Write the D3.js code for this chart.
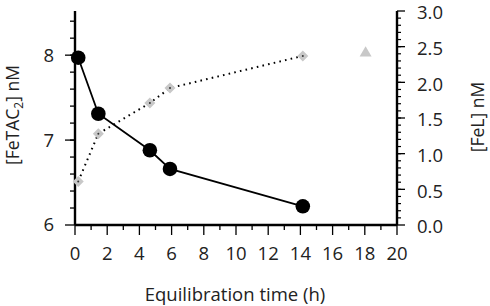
<!DOCTYPE html>
<html lang="en">
  <head>
    <meta charset="UTF-8" />
    <title>FeTAC2 and FeL vs equilibration time</title>
    <script src="https://d3js.org/d3.v7.min.js"></script>
    <style>
      body { margin: 0; background: #fff; }
      text { font-family: "Open Sans", sans-serif; fill: #222; }
    </style>
  </head>
  <body>
    <svg id="chart" width="490" height="306"></svg>
    <script>
      // data
      const feTacTime = [0.2, 1.45, 4.65, 5.9, 14.15];
      const feTacValues = [7.97, 7.31, 6.88, 6.66, 6.22];
      const feLTime = [0.2, 1.45, 4.65, 5.9, 14.15];
      const feLValues = [0.61, 1.28, 1.71, 1.92, 2.37];
      const extraTime = [18.05];
      const extraValues = [2.41];
      const xTicks = [0, 2, 4, 6, 8, 10, 12, 14, 16, 18, 20];
      const leftTicks = [6, 7, 8];
      const rightTicks = [0, 0.5, 1, 1.5, 2, 2.5, 3];

      const svg = d3.select("#chart"),
        margin = { top: 11, right: 93, bottom: 81, left: 75 },
        width = +svg.attr("width") - margin.left - margin.right,
        height = +svg.attr("height") - margin.top - margin.bottom,
        chart = svg.append("g")
          .attr("transform", `translate(${margin.left},${margin.top})`);

      const x = d3.scaleLinear().domain([0, 20]).range([0, width]);
      const yL = d3.scaleLinear().domain([6, 8.52]).range([height, 0]);
      const yR = d3.scaleLinear().domain([0, 3]).range([height, 0]);

      const axisStroke = 2.4;
      const tickFont = "18.5px";

      // x axis: major ticks every 2, minor every 1
      const xAxis = chart.append("g").attr("transform", `translate(0,${height})`);
      xAxis.append("line").attr("x1", 0).attr("x2", width)
        .attr("stroke", "#000").attr("stroke-width", axisStroke);
      xAxis.selectAll("line.minor").data(d3.range(1, 20, 2)).enter().append("line")
        .attr("class", "minor")
        .attr("x1", d => x(d)).attr("x2", d => x(d))
        .attr("y1", 0).attr("y2", 5)
        .attr("stroke", "#000").attr("stroke-width", 1.3);
      xAxis.selectAll("line.major").data(xTicks).enter().append("line")
        .attr("class", "major")
        .attr("x1", d => x(d)).attr("x2", d => x(d))
        .attr("y1", 0).attr("y2", 10)
        .attr("stroke", "#000").attr("stroke-width", 1.3);
      xAxis.selectAll("text").data(xTicks).enter().append("text")
        .attr("x", d => x(d)).attr("y", 35)
        .attr("text-anchor", "middle")
        .style("font-size", tickFont)
        .text(d => d);

      // left axis
      const lAxis = chart.append("g");
      lAxis.append("line").attr("y1", 0).attr("y2", height)
        .attr("stroke", "#000").attr("stroke-width", axisStroke);
      lAxis.selectAll("line.minor").data(d3.range(6.2, 8.5, 0.2)).enter().append("line")
        .attr("class", "minor")
        .attr("x1", 0).attr("x2", -5)
        .attr("y1", d => yL(d)).attr("y2", d => yL(d))
        .attr("stroke", "#000").attr("stroke-width", 1.3);
      lAxis.selectAll("line.major").data(leftTicks).enter().append("line")
        .attr("class", "major")
        .attr("x1", 0).attr("x2", -10)
        .attr("y1", d => yL(d)).attr("y2", d => yL(d))
        .attr("stroke", "#000").attr("stroke-width", 1.3);
      lAxis.selectAll("text").data(leftTicks).enter().append("text")
        .attr("x", -21).attr("y", d => yL(d))
        .attr("dy", "0.35em")
        .attr("text-anchor", "end")
        .style("font-size", tickFont)
        .text(d => d);

      // right axis
      const rAxis = chart.append("g").attr("transform", `translate(${width},0)`);
      rAxis.append("line").attr("y1", 0).attr("y2", height)
        .attr("stroke", "#000").attr("stroke-width", axisStroke);
      rAxis.selectAll("line.minor").data(d3.range(0.1, 3, 0.1)).enter().append("line")
        .attr("class", "minor")
        .attr("x1", 0).attr("x2", 4)
        .attr("y1", d => yR(d)).attr("y2", d => yR(d))
        .attr("stroke", "#000").attr("stroke-width", 1.2);
      rAxis.selectAll("line.major").data(rightTicks).enter().append("line")
        .attr("class", "major")
        .attr("x1", 0).attr("x2", 8)
        .attr("y1", d => yR(d)).attr("y2", d => yR(d))
        .attr("stroke", "#000").attr("stroke-width", 1.3);
      rAxis.selectAll("text").data(rightTicks).enter().append("text")
        .attr("x", 20).attr("y", d => yR(d))
        .attr("dy", "0.45em")
        .style("font-size", tickFont)
        .text(d => d3.format(".1f")(d));

      // axis titles
      svg.append("text")
        .attr("x", margin.left + width / 2 - 1).attr("y", 301)
        .attr("text-anchor", "middle")
        .style("font-size", "18.5px")
        .text("Equilibration time (h)");

      const leftTitle = svg.append("text")
        .attr("transform", `translate(18.5,${margin.top + 104}) rotate(-90)`)
        .attr("text-anchor", "middle")
        .style("font-size", "17.5px");
      leftTitle.append("tspan").text("[FeTAC");
      leftTitle.append("tspan").attr("dy", 4).style("font-size", "12px").text("2");
      leftTitle.append("tspan").attr("dy", -4).text("] nM");

      svg.append("text")
        .attr("transform", `translate(484,${margin.top + 106}) rotate(-90)`)
        .attr("text-anchor", "middle")
        .style("font-size", "17.5px")
        .text("[FeL] nM");

      // FeL dotted series (right axis)
      const feL = feLTime.map((t, i) => ({ t: t, v: feLValues[i] }));
      chart.append("path").datum(feL)
        .attr("fill", "none")
        .attr("stroke", "#000")
        .attr("stroke-width", 2)
        .attr("stroke-dasharray", "1.6,4.2")
        .attr("d", d3.line().x(d => x(d.t)).y(d => yR(d.v)));
      chart.selectAll("path.diamond").data(feL).enter().append("path")
        .attr("class", "diamond")
        .attr("transform", d => `translate(${x(d.t)},${yR(d.v)})`)
        .attr("d", d3.symbol().type(d3.symbolDiamond2).size(78))
        .attr("fill", "#c8c8c8");
      chart.selectAll("circle.dot").data(feL).enter().append("circle")
        .attr("class", "dot")
        .attr("cx", d => x(d.t)).attr("cy", d => yR(d.v))
        .attr("r", 1)
        .attr("fill", "#333");

      // extra triangle point
      const extra = extraTime.map((t, i) => ({ t: t, v: extraValues[i] }));
      chart.selectAll("path.tri").data(extra).enter().append("path")
        .attr("class", "tri")
        .attr("transform", d => `translate(${x(d.t)},${yR(d.v)})`)
        .attr("d", d3.symbol().type(d3.symbolTriangle).size(62))
        .attr("fill", "#c8c8c8");

      // FeTAC2 solid series (left axis)
      const feTac = feTacTime.map((t, i) => ({ t: t, v: feTacValues[i] }));
      chart.append("path").datum(feTac)
        .attr("fill", "none")
        .attr("stroke", "#000")
        .attr("stroke-width", 1.8)
        .attr("d", d3.line().x(d => x(d.t)).y(d => yL(d.v)));
      chart.selectAll("circle.fetac").data(feTac).enter().append("circle")
        .attr("class", "fetac")
        .attr("cx", d => x(d.t)).attr("cy", d => yL(d.v))
        .attr("r", 7.3)
        .attr("fill", "#000");
    </script>
  </body>
</html>
